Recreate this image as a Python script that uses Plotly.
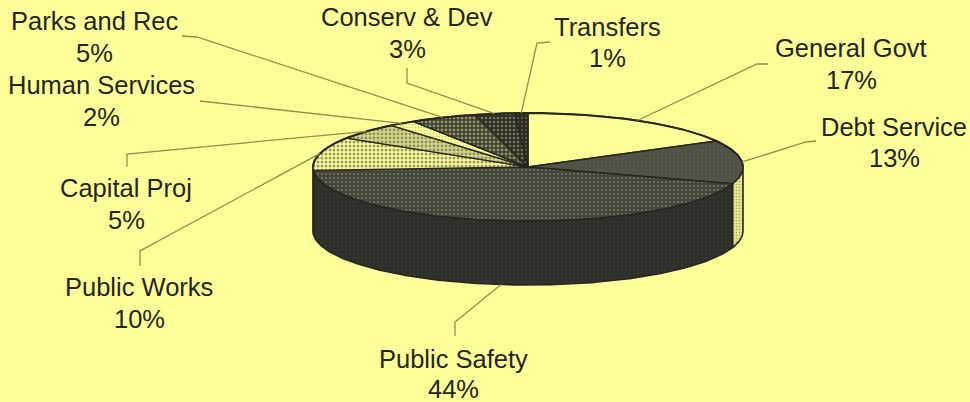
import math
import plotly.graph_objects as go

# Budget shares by function, clockwise from twelve o'clock
categories = ["General Govt", "Debt Service", "Public Safety", "Public Works", "Capital Proj",
              "Human Services", "Parks and Rec", "Conserv & Dev", "Transfers"]
shares = [17, 13, 44, 10, 5, 2, 5, 3, 1]

# Faux-3D disc drawn on a pixel-sized plot area
CX, CY, RX, RY, DEPTH = 528, 167, 215, 54, 64
PAGE = "#FFFF99"
INK = "#26261E"
LEADER = "#8E8E48"

top_styles = [
    dict(bg="#FFFF99", fg="#FFFF99", size=4, solidity=0.1),
    dict(bg="#505145", fg="#5A5B4C", size=4, solidity=0.3),
    dict(bg="#44453A", fg="#B5B58C", size=4, solidity=0.2),
    dict(bg="#FFFF99", fg="#35352B", size=4, solidity=0.45),
    dict(bg="#D8D888", fg="#4A4A3A", size=4, solidity=0.42),
    dict(bg="#FFFF99", fg="#8A8A55", size=3, solidity=0.2),
    dict(bg="#3A3A30", fg="#EDEDA0", size=4, solidity=0.42),
    dict(bg="#2E2E26", fg="#C0C088", size=4, solidity=0.34),
    dict(bg="#2A2A22", fg="#8A8A60", size=4, solidity=0.25),
]
side_styles = {
    1: dict(bg="#E8E88C", fg="#6B6B45", size=3, solidity=0.25),
    2: dict(bg="#2E2F29", fg="#44453A", size=4, solidity=0.16),
    3: dict(bg="#2E2F29", fg="#44453A", size=4, solidity=0.16),
}

# Centres of the name and percent lines, in plot pixels
label_xy = {
    "General Govt": (851, 48, 80), "Debt Service": (894, 127, 158), "Public Safety": (453, 359, 389),
    "Public Works": (139, 287, 319), "Capital Proj": (126, 188, 220), "Human Services": (101, 85, 117),
    "Parks and Rec": (94, 21, 53), "Conserv & Dev": (407, 17, 49), "Transfers": (607, 27, 58),
}
leader_tails = {
    "General Govt": [(757, 64), (768, 64)], "Debt Service": [(806, 142), (816, 141)],
    "Public Safety": [(455, 322), (455, 336)], "Public Works": [(140, 251), (140, 266)],
    "Capital Proj": [(127, 154), (127, 167)], "Human Services": [(200, 101)],
    "Parks and Rec": [(197, 37), (182, 36)], "Conserv & Dev": [(407, 83), (407, 68)],
    "Transfers": [(537, 43), (550, 42)],
}


def rim(deg, drop=0):
    t = math.radians(deg)
    return CX + RX * math.sin(t), CY - RY * math.cos(t) + drop


def arc(a, b, drop=0):
    steps = max(2, int(abs(b - a)) + 1)
    return [rim(a + (b - a) * i / steps, drop) for i in range(steps + 1)]


def pattern(s):
    return dict(shape=".", bgcolor=s["bg"], fgcolor=s["fg"], size=s["size"], solidity=s["solidity"])


def polygon(points, style, width=1.2):
    return go.Scatter(
        x=[p[0] for p in points], y=[p[1] for p in points], mode="lines", fill="toself",
        fillpattern=pattern(style), line=dict(color=INK, width=width),
        hoverinfo="skip", showlegend=False,
    )


fig = go.Figure()
total = sum(shares)
start = 0.0
spans = []
for v in shares:
    spans.append((start, start + v / total * 360))
    start = spans[-1][1]

# Outer wall, only the front half of the disc is visible
for i, (a, b) in enumerate(spans):
    lo, hi = max(a, 90), min(b, 270)
    if lo < hi:
        fig.add_trace(polygon(arc(lo, hi) + arc(hi, lo, DEPTH) + [rim(lo)], side_styles[i], 1.6))

# Top face wedges
for i, (a, b) in enumerate(spans):
    pts = [(CX, CY)] + arc(a, b) + [(CX, CY)]
    fig.add_trace(polygon(pts, top_styles[i], 1.4))

# Rim outline drawn last so it sits over the wedges
fig.add_trace(go.Scatter(
    x=[p[0] for p in arc(-90, 90)], y=[p[1] for p in arc(-90, 90)], mode="lines",
    line=dict(color=INK, width=2), hoverinfo="skip", showlegend=False,
))

# Leader lines run from each wedge's mid-angle to its label
for name, (a, b) in zip(categories, spans):
    mid = (a + b) / 2
    front = 90 < mid < 270
    pts = [rim(mid, DEPTH if front else 0)] + leader_tails[name]
    fig.add_trace(go.Scatter(
        x=[p[0] for p in pts], y=[p[1] for p in pts], mode="lines",
        line=dict(color=LEADER, width=1.3), hoverinfo="skip", showlegend=False,
    ))

annotations = []
for n, v in zip(categories, shares):
    x, y_name, y_pct = label_xy[n]
    for y, text in ((y_name, n), (y_pct, f"{v}%")):
        annotations.append(dict(x=x, y=y, text=text, showarrow=False,
                                xanchor="center", yanchor="middle", align="center"))

fig.update_layout(
    width=970, height=402, margin=dict(l=0, r=0, t=0, b=0),
    paper_bgcolor=PAGE, plot_bgcolor=PAGE, showlegend=False,
    font=dict(family="Liberation Sans", size=25.5, color="#25251D"),
    xaxis=dict(range=[0, 970], visible=False, fixedrange=True),
    yaxis=dict(range=[402, 0], visible=False, fixedrange=True),
    annotations=annotations,
)
fig.write_html("out.html", config=dict(displayModeBar=False))
